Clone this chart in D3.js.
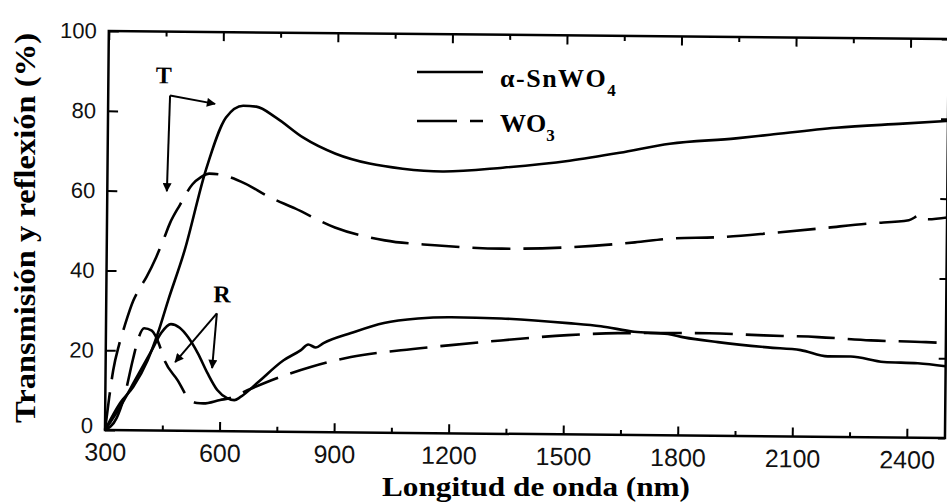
<!DOCTYPE html>
<html>
<head>
<meta charset="utf-8">
<script src="https://cdn.jsdelivr.net/npm/d3@7"></script>
<style>
  body { margin: 0; background: #fff; }
  svg { display: block; }
</style>
</head>
<body>
<svg id="chart" width="947" height="502"></svg>
<script>
// spectra, [wavelength (nm), %]
const tSnWO4 = [[300,0],[339,6.8],[373,10.9],[410,17.6],[436,24.4],[462,32.6],[504,45.2],[557,65.2],[609,78.6],[654,81.6],[688,81.4],[740,78.7],[811,73.8],[897,69.8],[986,67.4],[1073,66.2],[1177,65.6],[1335,66.7],[1510,68.6],[1641,70.7],[1772,73.1],[1945,74.6],[2034,75.6],[2207,77.5],[2382,78.7],[2500,79.5]];
const tWO3 = [[300,0],[310,8],[320,15],[335,21.5],[350,26.5],[371,32.5],[390,36],[405,38.5],[430,43.5],[449,48],[465,52],[490,56.5],[523,61.8],[545,63.6],[567,64.5],[600,64.2],[661,62.1],[720,59],[792,56],[897,51.3],[1028,48.2],[1159,47.1],[1335,46.4],[1510,46.9],[1683,48.3],[1772,49.3],[1903,49.8],[2034,50.9],[2165,52.2],[2296,53.6],[2400,54.5],[2430,55.8],[2450,54.8],[2500,55.3]];
const rSnWO4 = [[300,0],[340,6],[380,13],[420,20],[445,24.5],[470,26.7],[493,25.8],[515,23.5],[541,19.5],[567,14.5],[593,10.3],[619,8.3],[638,7.8],[654,8.6],[698,12.2],[766,17.9],[811,20.5],[830,21.9],[850,21.2],[870,22.3],[942,24.9],[1028,27.5],[1117,28.7],[1204,29.1],[1335,28.9],[1510,27.9],[1596,27.2],[1683,25.9],[1772,25.4],[1814,24.6],[1903,23.5],[2034,22.3],[2120,21.7],[2191,20.2],[2251,20.2],[2338,18.9],[2427,18.7],[2500,18]];
const rWO3 = [[300,0],[330,3],[352,9.3],[371,17.6],[385,23],[400,25.6],[420,25],[440,21.5],[452,18.1],[490,12.5],[517,8.2],[540,7],[557,6.9],[601,7.8],[627,8.3],[672,10.3],[720,12.3],[780,14.5],[837,16.3],[942,18.9],[1073,20.7],[1204,22.1],[1335,23.4],[1510,24.9],[1641,25.5],[1880,25.7],[2023,25.3],[2165,25],[2303,24.3],[2448,24],[2500,23.8]];

const xTicks = [300, 600, 900, 1200, 1500, 1800, 2100, 2400];
const xMinorTicks = [450, 750, 1050, 1350, 1650, 1950, 2250];
const yTicks = [0, 20, 40, 60, 80, 100];

// arrow callouts, in data units
const tArrows = { from: [462, 84], to: [[580, 82], [456, 60]], label: [445, 87] };
const rArrows = { from: [590, 29.5], to: [[482, 17.2], [579, 15.8]], label: [603, 32.3] };

const svg = d3.select("#chart");
const plotLeft = 105, plotRight = 945, plotTop = 31, plotBottom = 430;
const x = d3.scaleLinear().domain([300, 2500]).range([plotLeft, plotRight]);
const y = d3.scaleLinear().domain([0, 100]).range([plotBottom, plotTop]);

const sansFont = "'Liberation Sans', Arial, sans-serif";
const serifFont = "'Liberation Serif', 'Times New Roman', serif";

svg.append("defs").append("marker")
  .attr("id", "arrow")
  .attr("viewBox", "0 0 10 10")
  .attr("refX", 9).attr("refY", 5)
  .attr("markerWidth", 13).attr("markerHeight", 9)
  .attr("markerUnits", "userSpaceOnUse")
  .attr("orient", "auto")
  .append("path").attr("d", "M0,0L10,5L0,10z").attr("fill", "#000");

// the scanned figure sits slightly crooked
const plot = svg.append("g").attr("transform", `rotate(0.55, ${plotLeft}, ${plotBottom})`);

plot.append("rect")
  .attr("x", plotLeft).attr("y", plotTop)
  .attr("width", plotRight - plotLeft).attr("height", plotBottom - plotTop)
  .attr("fill", "none").attr("stroke", "#000").attr("stroke-width", 2.5);

function styleAxis(g, size) {
  g.select(".domain").remove();
  g.selectAll(".tick line").attr("stroke", "#000").attr("stroke-width", 2);
  g.attr("font-family", sansFont).attr("font-size", size);
  g.selectAll(".tick text").attr("fill", "#111");
}

plot.append("g").attr("transform", `translate(0,${plotBottom})`)
  .call(d3.axisBottom(x).tickValues(xTicks).tickSize(-9).tickPadding(13).tickFormat(d3.format("d")))
  .call(g => styleAxis(g, 25));
plot.append("g").attr("transform", `translate(0,${plotBottom})`)
  .call(d3.axisBottom(x).tickValues(xMinorTicks).tickSize(-5).tickFormat(""))
  .call(g => styleAxis(g, 25));
plot.append("g").attr("transform", `translate(0,${plotTop})`)
  .call(d3.axisTop(x).tickValues(xTicks).tickSize(-9).tickFormat(""))
  .call(g => styleAxis(g, 25));
plot.append("g").attr("transform", `translate(0,${plotTop})`)
  .call(d3.axisTop(x).tickValues(xMinorTicks).tickSize(-5).tickFormat(""))
  .call(g => styleAxis(g, 25));
plot.append("g").attr("transform", `translate(${plotLeft},0)`)
  .call(d3.axisLeft(y).tickValues(yTicks).tickSize(-10).tickPadding(12))
  .call(g => styleAxis(g, 22))
  // lift the corner "0" a touch so it clears the "300" below it
  .call(g => g.selectAll(".tick text").filter(d => d === 0).attr("dy", "0.12em"));
plot.append("g").attr("transform", `translate(${plotRight},0)`)
  .call(d3.axisRight(y).tickValues(yTicks).tickSize(-7).tickFormat(""))
  .call(g => styleAxis(g, 22));

const line = d3.line()
  .x(d => x(d[0]))
  .y(d => y(d[1]))
  .curve(d3.curveMonotoneX);

const series = [
  { data: tSnWO4, dash: null },
  { data: rSnWO4, dash: null },
  { data: tWO3, dash: "38,13" },
  { data: rWO3, dash: "38,13" }
];

plot.selectAll("path.curve")
  .data(series)
  .join("path")
  .attr("class", "curve")
  .attr("d", d => line(d.data))
  .attr("fill", "none")
  .attr("stroke", "#000")
  .attr("stroke-width", 2.6)
  .attr("stroke-dasharray", d => d.dash);

function drawCallout(a, text) {
  a.to.forEach(t => {
    plot.append("line")
      .attr("x1", x(a.from[0])).attr("y1", y(a.from[1]))
      .attr("x2", x(t[0])).attr("y2", y(t[1]))
      .attr("stroke", "#000").attr("stroke-width", 2)
      .attr("marker-end", "url(#arrow)");
  });
  plot.append("text")
    .attr("x", x(a.label[0])).attr("y", y(a.label[1]))
    .attr("text-anchor", "middle")
    .attr("font-family", serifFont).attr("font-weight", "bold").attr("font-size", 24)
    .text(text);
}
drawCallout(tArrows, "T");
drawCallout(rArrows, "R");

// legend
const legend = svg.append("g");
legend.append("line").attr("x1", 417).attr("x2", 483).attr("y1", 72).attr("y2", 72)
  .attr("stroke", "#000").attr("stroke-width", 2.6);
legend.append("line").attr("x1", 417).attr("x2", 483).attr("y1", 121).attr("y2", 121)
  .attr("stroke", "#000").attr("stroke-width", 2.6).attr("stroke-dasharray", "40,13,13,100");

const l1 = legend.append("text").attr("x", 500).attr("y", 87)
  .attr("font-family", serifFont).attr("font-weight", "bold").attr("font-size", 26)
  .attr("letter-spacing", 1.5);
l1.append("tspan").text("\u03b1-SnWO");
l1.append("tspan").attr("dy", 9).attr("font-size", 17).text("4");

const l2 = legend.append("text").attr("x", 500).attr("y", 132)
  .attr("font-family", serifFont).attr("font-weight", "bold").attr("font-size", 26);
l2.append("tspan").text("WO");
l2.append("tspan").attr("dy", 9).attr("font-size", 17).text("3");

// axis titles
svg.append("text")
  .attr("x", 536).attr("y", 496)
  .attr("text-anchor", "middle")
  .attr("font-family", serifFont).attr("font-weight", "bold").attr("font-size", 27)
  .attr("textLength", 308).attr("lengthAdjust", "spacingAndGlyphs")
  .text("Longitud de onda (nm)");

svg.append("text")
  .attr("transform", "translate(35,228) rotate(-90)")
  .attr("text-anchor", "middle")
  .attr("font-family", serifFont).attr("font-weight", "bold").attr("font-size", 29)
  .attr("textLength", 390).attr("lengthAdjust", "spacingAndGlyphs")
  .text("Transmisión y reflexión (%)");
</script>
</body>
</html>
